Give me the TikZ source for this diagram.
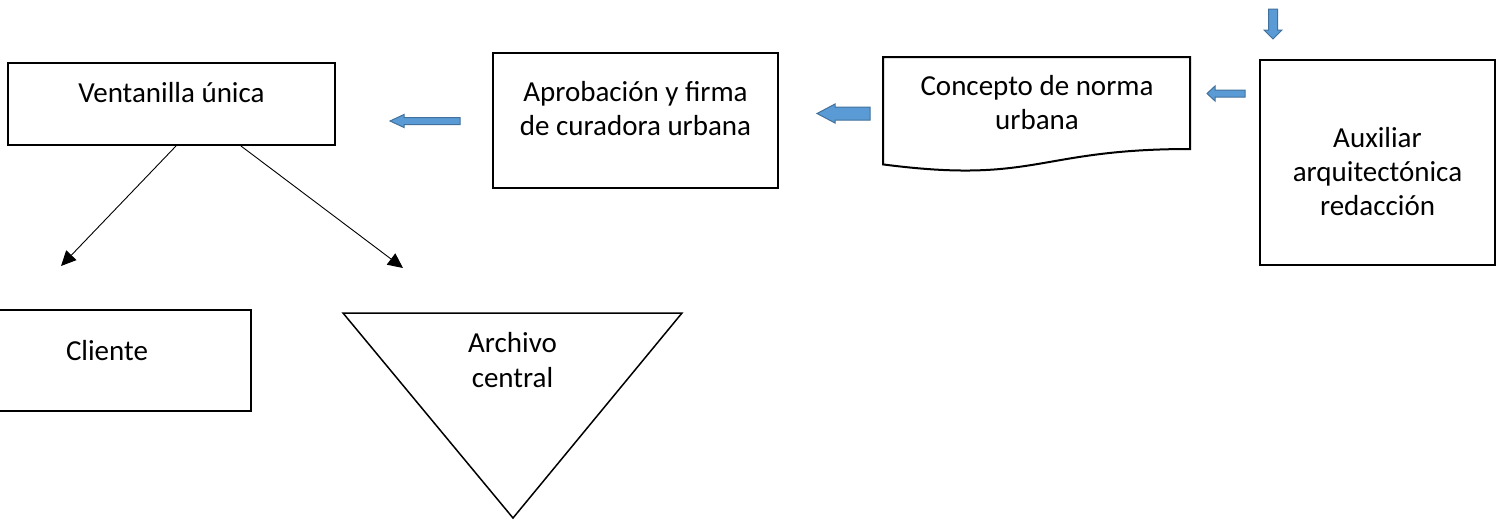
\documentclass[tikz,border=0pt]{standalone}
\usepackage{fontspec}
\setmainfont{Carlito}
\usetikzlibrary{arrows.meta,calc}
\definecolor{arrfill}{RGB}{91,155,213}
\definecolor{arredge}{RGB}{65,113,156}
\newcommand{\blkleft}[6]{% tip x, tail x, y, shaft half, head half, head length
  \filldraw[blk] (#1,#3) -- (#1+#6,#3-#5) -- (#1+#6,#3-#4) -- (#2,#3-#4) -- (#2,#3+#4) -- (#1+#6,#3+#4) -- (#1+#6,#3+#5) -- cycle;}
\begin{document}
\begin{tikzpicture}[x=1pt,y=-1pt,
  box/.style={draw=black, line width=2pt, inner sep=0pt},
  txt/.style={font=\fontsize{29}{34}\selectfont, inner sep=0pt, anchor=base},
  conn/.style={line width=0.9pt, -{Triangle[length=15pt,width=14pt]}},
  blk/.style={fill=arrfill, draw=arredge, line width=1pt, line join=miter}]
\useasboundingbox (0,0) rectangle (1503,520);

% boxes
\node[box, minimum width=327pt, minimum height=82pt] (vent) at (171.5,104) {};
\node[box, minimum width=285pt, minimum height=135pt] (aprob) at (635.5,120) {};
\node[box, minimum width=235pt, minimum height=205pt] (aux) at (1377.5,162.5) {};
\node[box, minimum width=256pt, minimum height=101pt] (cli) at (123,360.5) {};
% document shape
\draw[line width=2pt, line join=miter] (883,57) coordinate (docnw) -- (1190,57) -- (1190,149)
  .. controls (1036.5,149) and (1036.5,184.4) .. (883,164.4) -- cycle;
% merge (triangle)
\draw[line width=1.5pt, line join=miter] (343,313) coordinate (trinw) -- (682,313) -- (513,518) -- cycle;

% texts
\node[txt] (vt1) at (171.5,102) {Ventanilla única};
\node[txt] (ap1) at (635.5,101) {Aprobación y firma};
\node[txt] (ap2) at (635.5,135) {de curadora urbana};
\node[txt] (co1) at (1037,95) {Concepto de norma};
\node[txt] (co2) at (1037,129) {urbana};
\node[txt] (au1) at (1377.5,147) {Auxiliar};
\node[txt] (au2) at (1377.5,181) {arquitectónica};
\node[txt] (au3) at (1377.5,215) {redacción};
\node[txt] (cl1) at (107,360) {Cliente};
\node[txt] (ar1) at (512.5,352) {Archivo};
\node[txt] (ar2) at (512.5,387) {central};

% line connectors
\coordinate (endcli) at (61,266);
\coordinate (endarc) at (403,268);
\draw[conn] ($(vent.south west)+(169,0)$) -- (endcli);
\draw[conn] ($(vent.south west)+(234,0)$) -- (endarc);

% block arrows
\blkleft{390}{460}{121}{3.5}{6.5}{14}
\blkleft{817}{870}{113.5}{6.5}{9.5}{18}
\blkleft{1207}{1245}{93.5}{3.5}{7.5}{8}
\filldraw[blk] (1273,39) -- (1264,30) -- (1268.5,30) -- (1268.5,9) -- (1277.5,9) -- (1277.5,30) -- (1282,30) -- cycle;
\end{tikzpicture}
\end{document}
